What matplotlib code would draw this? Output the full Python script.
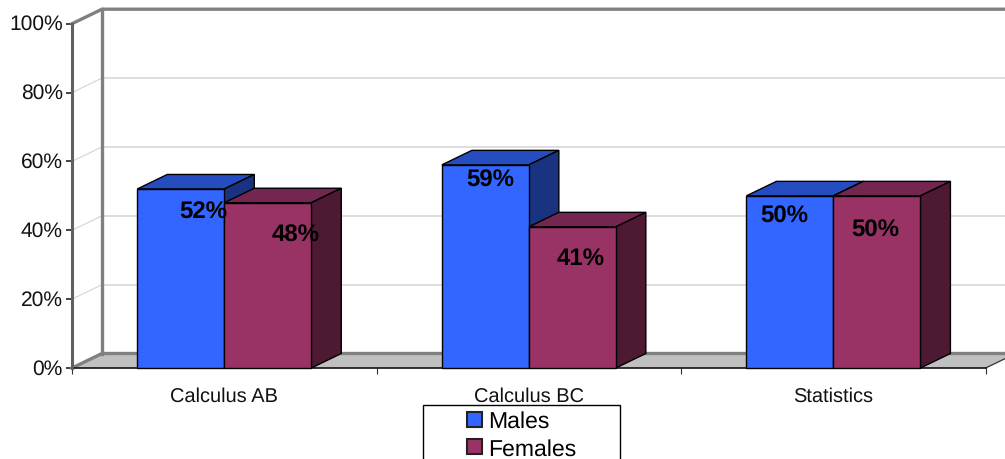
import matplotlib
matplotlib.use("Agg")
import matplotlib.pyplot as plt
from matplotlib.patches import Polygon, Rectangle

# ---------------------------
# DATA
# ---------------------------
courses = ["Calculus AB", "Calculus BC", "Statistics"]
males = [52, 59, 50]
females = [48, 41, 50]
y_ticks = [0, 20, 40, 60, 80, 100]

# label offsets from top centre of each bar, in pixels
male_offsets = [(22, -23), (5, -15), (-6, -20)]
female_offsets = [(28, -32), (8, -31), (-2, -34)]

blue = ("#3366FF", "#264DBF", "#1A3380")
plum = ("#993366", "#732650", "#4D1933")

W, H = 1005, 460
plt.rcParams["font.family"] = ["Liberation Sans", "DejaVu Sans"]
plt.rcParams["text.hinting"] = "no_hinting"
plt.rcParams["text.hinting_factor"] = 1

fig = plt.figure(figsize=(W / 100, H / 100), dpi=100)
left, right, bottom, top = 72, 985.7, 369, 24.7
ax = fig.add_axes([left / W, 1 - bottom / H, (right - left) / W, (bottom - top) / H])
ax.set_xlim(-0.5, 2.5)
ax.set_ylim(0, 100)
for s in ax.spines.values():
    s.set_visible(False)

# depth of the fake 3d box, in data units
dx = 30 / ((right - left) / 3)
dy = 14.5 / ((bottom - top) / 100)
bar_w = 87 / ((right - left) / 3)
x_end = 2.5 + 19.3 / ((right - left) / 3)

# ---------------------------
# WALLS AND FLOOR
# ---------------------------
ax.add_patch(Polygon([(-0.5, 0), (-0.5 + dx, dy), (2.5 + dx, dy), (2.5, 0)],
                     fc="#C0C0C0", ec="none", clip_on=False, zorder=1))
for v in y_ticks[1:-1]:
    ax.plot([-0.5, -0.5 + dx], [v, v + dy], color="#D4D4D4", lw=0.8, clip_on=False, zorder=1.5)
    ax.plot([-0.5 + dx, 2.5 + dx], [v + dy, v + dy], color="#D4D4D4", lw=1.1, clip_on=False, zorder=1.5)
ax.plot([-0.5 + dx, -0.5 + dx], [dy, 100 + dy], color="#808080", lw=2.4, clip_on=False, zorder=2)
ax.plot([-0.5, -0.5 + dx, 2.5 + dx], [100, 100 + dy, 100 + dy], color="#808080", lw=2.4,
        clip_on=False, zorder=2)
ax.plot([-0.5, -0.5 + dx, 2.5 + dx], [0, dy, dy], color="#808080", lw=2.4, clip_on=False, zorder=2)
ax.plot([2.5, x_end], [0, dy * 19.3 / 30], color="#333333", lw=0.9, clip_on=False, zorder=2)
ax.plot([-0.5, 2.5], [0, 0], color="#111111", lw=1.2, clip_on=False, zorder=2.5)
ax.plot([-0.5, -0.5], [0, 100], color="#606060", lw=2.2, clip_on=False, zorder=2.5)

# ---------------------------
# BARS
# ---------------------------
def draw_bar(x, v, cols, z):
    x0, x1 = x, x + bar_w
    ax.add_patch(Polygon([(x0, v), (x0 + dx, v + dy), (x1 + dx, v + dy), (x1, v)],
                         fc=cols[1], ec="black", lw=1, zorder=z, clip_on=False))
    ax.add_patch(Polygon([(x1, 0), (x1 + dx, dy), (x1 + dx, v + dy), (x1, v)],
                         fc=cols[2], ec="black", lw=1, zorder=z, clip_on=False))
    ax.bar(x, v, bar_w, align="edge", color=cols[0], edgecolor="black", lw=1, zorder=z, clip_on=False)

for i in range(len(courses)):
    draw_bar(i - bar_w, males[i], blue, 3)
    draw_bar(i, females[i], plum, 4)

for i in range(len(courses)):
    ax.annotate(f"{males[i]}%", (i - bar_w / 2, males[i]), xytext=male_offsets[i],
                textcoords="offset pixels", ha="center", va="center",
                fontsize=17, fontweight="bold", color="black", zorder=6)
    ax.annotate(f"{females[i]}%", (i + bar_w / 2, females[i]), xytext=female_offsets[i],
                textcoords="offset pixels", ha="center", va="center",
                fontsize=17, fontweight="bold", color="black", zorder=6)

# ---------------------------
# AXES
# ---------------------------
ax.set_yticks(y_ticks)
ax.set_yticklabels([f"{v}%" for v in y_ticks], fontsize=15.3, color="#111111", va="center")
ax.tick_params(axis="y", length=4.5, width=1.2, color="#222222", pad=2)
ax.set_xticks([-0.5, 0.5, 1.5, 2.5])
ax.set_xticklabels([])
ax.tick_params(axis="x", which="major", length=4.5, width=0.8, color="#333333")
ax.set_xticks(range(len(courses)), minor=True)
ax.set_xticklabels(courses, minor=True, fontsize=14.4, color="#111111")
ax.tick_params(axis="x", which="minor", length=0, pad=13)

# ---------------------------
# LEGEND
# ---------------------------
fig.add_artist(Rectangle((422.5 / W, 1 - 470 / H), 197 / W, 64 / H, fc="white", ec="black", lw=1,
                         transform=fig.transFigure))
handles = [Rectangle((0, 0), 1, 1, fc=blue[0], ec="#222222", lw=1.5),
           Rectangle((0, 0), 1, 1, fc=plum[0], ec="#222222", lw=1.5)]
fig.legend(handles, ["Males", "Females"], frameon=False, loc="upper left",
           bbox_to_anchor=(467 / W, 1 - 411.5 / H), borderpad=0, borderaxespad=0,
           fontsize=16.6, handlelength=0.63, handleheight=0.63, handletextpad=0.27,
           labelspacing=0.27)

fig.savefig("out.png", dpi=100)
